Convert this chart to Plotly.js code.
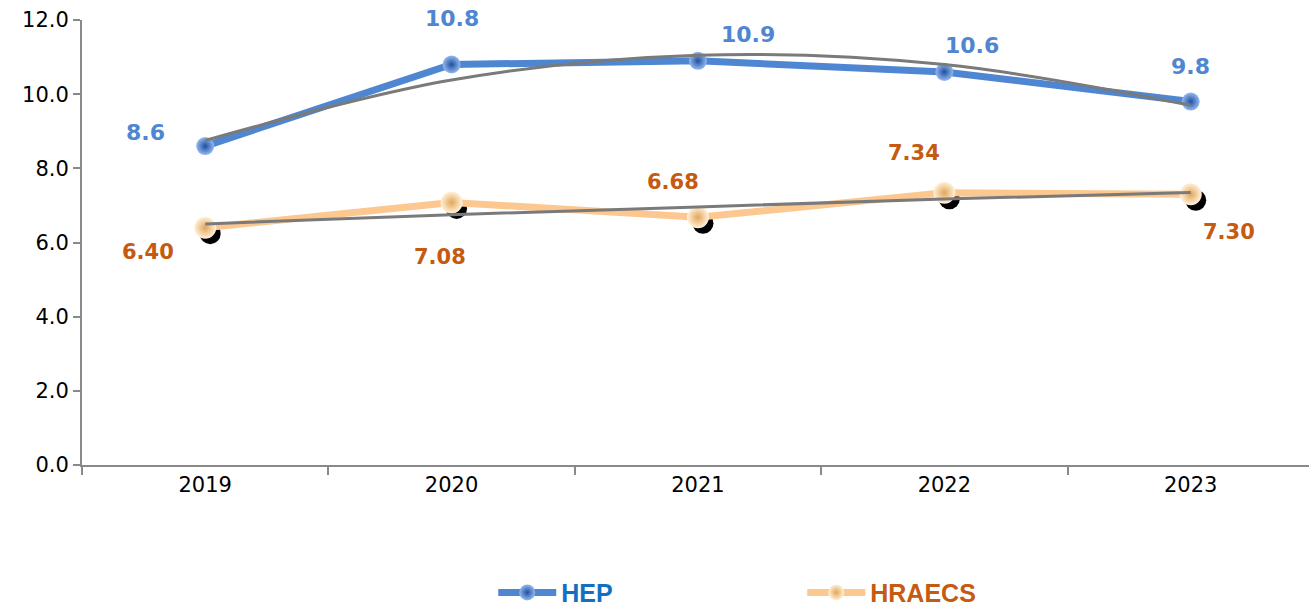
<!DOCTYPE html>
<html><head><meta charset="utf-8">
<script src="https://cdn.plot.ly/plotly-3.0.1.min.js"></script>
<style>body{margin:0;background:#fff}#chart{width:1309px;height:606px}</style>
</head><body><div id="chart"></div>
<script>
const years = ['2019','2020','2021','2022','2023'];
const hep = [8.6, 10.8, 10.9, 10.6, 9.8];
const hraecs = [6.40, 7.08, 6.68, 7.34, 7.30];
const hepTrend = [8.75, 10.38, 11.05, 10.8, 9.7];
const hraecsTrend = [6.5, 6.75, 6.96, 7.17, 7.35];
const hepLabels = ['8.6','10.8','10.9','10.6','9.8'];
const hraecsLabels = ['6.40','7.08','6.68','7.34','7.30'];

const xr = [-0.5, 4.48];
const yr = [0, 12];
const pxPerCat = 246.5, pxPerUnit = 37.08;
const dx = 5 / pxPerCat, dy = 6 / pxPerUnit;

const traces = [
  {x: years, y: hep, xaxis: 'x', yaxis: 'y', mode: 'lines+markers', name: '<b style="color:#1270c2">HEP</b>',
   line: {color: '#4f86d2', width: 7},
   marker: {size: 18, color: '#93b9f0', gradient: {type: 'radial', color: '#1f4f9e'}, line: {width: 0}}},
  {x: years, y: hepTrend, xaxis: 'x', yaxis: 'y', mode: 'lines', showlegend: false, hoverinfo: 'skip',
   line: {color: '#7a7a7a', width: 3, shape: 'spline'}},
  {x: years, y: hraecs, xaxis: 'x2', yaxis: 'y2', mode: 'markers', showlegend: false, hoverinfo: 'skip',
   marker: {size: 21, color: '#000000'}},
  {x: years, y: hraecs, xaxis: 'x3', yaxis: 'y3', mode: 'lines+markers', name: '<b style="color:#c55a11">HRAECS</b>',
   line: {color: '#fcc890', width: 7},
   marker: {size: 22, color: '#fff2dc', gradient: {type: 'radial', color: '#e3a55a'}, line: {width: 0}}},
  {x: years, y: hraecsTrend, xaxis: 'x3', yaxis: 'y3', mode: 'lines', showlegend: false, hoverinfo: 'skip',
   line: {color: '#7a7a7a', width: 3}}
];

const hepOff = [[-60, 14], [0, 46], [50, 26], [28, 26], [0, 35]];
const hrOff = [[-57, -24], [-12, -55], [-25, 35], [-30, 40], [38, -38]];
const annotations = [];
years.forEach((yv, i) => {
  annotations.push({x: i, y: hep[i], xref: 'x', yref: 'y', text: '<b>' + hepLabels[i] + '</b>', showarrow: false,
    xshift: hepOff[i][0], yshift: hepOff[i][1], font: {family: 'DejaVu Sans', size: 22, color: '#4f86d2'}});
  annotations.push({x: i, y: hraecs[i], xref: 'x', yref: 'y', text: '<b>' + hraecsLabels[i] + '</b>', showarrow: false,
    xshift: hrOff[i][0], yshift: hrOff[i][1], font: {family: 'DejaVu Sans', size: 21, color: '#c55a11'}});
});

const hidden = {visible: false, fixedrange: true, showgrid: false, zeroline: false};
const layout = {
  width: 1309, height: 606,
  margin: {l: 82, r: 0, t: 20, b: 141},
  paper_bgcolor: '#ffffff', plot_bgcolor: '#ffffff',
  font: {family: 'DejaVu Sans', size: 20, color: '#000000'},
  showlegend: true,
  legend: {orientation: 'h', xref: 'paper', x: 0.587, xanchor: 'center', yref: 'container', y: 0.022, yanchor: 'middle',
    font: {family: 'Liberation Sans', size: 25}, entrywidth: 236, itemwidth: 58},
  xaxis: {type: 'category', range: xr, showgrid: false, zeroline: false, fixedrange: true, automargin: false,
    showline: true, linecolor: '#898989', linewidth: 2, ticks: 'outside', tickson: 'boundaries',
    ticklen: 8, tickcolor: '#898989', tickwidth: 2, tickfont: {family: 'DejaVu Sans', size: 21}},
  yaxis: {range: yr, dtick: 2, tickformat: '.1f', showgrid: false, fixedrange: true, automargin: false,
    zeroline: false, showline: true, linecolor: '#898989', linewidth: 2, ticks: 'outside', ticklen: 7,
    tickcolor: '#898989', tickwidth: 2, tickfont: {family: 'DejaVu Sans', size: 21}},
  xaxis2: Object.assign({type: 'category', overlaying: 'x', range: [xr[0] - dx, xr[1] - dx]}, hidden),
  yaxis2: Object.assign({overlaying: 'y', range: [yr[0] + dy, yr[1] + dy]}, hidden),
  xaxis3: Object.assign({type: 'category', overlaying: 'x', range: xr}, hidden),
  yaxis3: Object.assign({overlaying: 'y', range: yr}, hidden),
  annotations: annotations
};
Plotly.newPlot('chart', traces, layout, {displayModeBar: false, staticPlot: true});
</script></body></html>
